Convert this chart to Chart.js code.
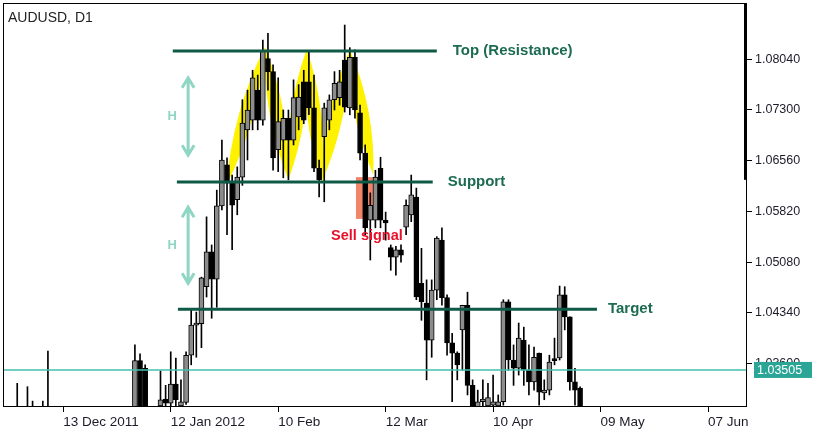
<!DOCTYPE html>
<html>
<head>
<meta charset="utf-8">
<title>AUDUSD, D1</title>
<script src="https://cdn.jsdelivr.net/npm/chart.js@4.4.1/dist/chart.umd.min.js"></script>
<style>
  html, body { margin: 0; padding: 0; background: #fff; }
  #wrap { width: 824px; height: 435px; }
</style>
</head>
<body>
<div id="wrap"><canvas id="chart" width="824" height="435"></canvas></div>
<script>
const symbolTitle = "AUDUSD, D1";

// daily candles, bar 0 = first bar on the left edge
const opens = [
  1.0240, 1.0210, 1.0250, 1.0230, 1.0260, 1.0240, 1.0220, 1.0180, 1.0250, 1.0230,
  1.0140, 1.0080, 1.0010, 0.9950, 0.9900, 0.9960, 0.9930, 0.9980, 1.0040, 1.0090,
  1.0130, 1.0110, 1.0170, 1.0160, 1.0190, 1.0230, 1.0364, 1.0353, 1.0265, 1.0240,
  1.0298, 1.0308, 1.0302, 1.0330, 1.0298, 1.0303, 1.0372, 1.0416, 1.0418, 1.0472,
  1.0523, 1.0483, 1.0590, 1.0650, 1.0623, 1.0599, 1.0632, 1.0701, 1.0715, 1.0759,
  1.0715, 1.0805, 1.0786, 1.0672, 1.0686, 1.0718, 1.0686, 1.0720, 1.0771, 1.0771,
  1.0733, 1.0645, 1.0691, 1.0715, 1.0745, 1.0748, 1.0803, 1.0733, 1.0807, 1.0726,
  1.0667, 1.0569, 1.0569, 1.0645, 1.0569, 1.0529, 1.0515, 1.0526, 1.0559, 1.0577,
  1.0603, 1.0477, 1.0448, 1.0394, 1.0467, 1.0540, 1.0456, 1.0390, 1.0375, 1.0409,
  1.0445, 1.0328, 1.0296, 1.0304, 1.0298, 1.0299, 1.0298, 1.0304, 1.0450, 1.0365,
  1.0353, 1.0394, 1.0350, 1.0333, 1.0375, 1.0317, 1.0321, 1.0365, 1.0368, 1.0460,
  1.0428, 1.0333, 1.0324
];
const highs = [
  1.0285, 1.0270, 1.0331, 1.0280, 1.0326, 1.0305, 1.0270, 1.0305, 1.0378, 1.0260,
  1.0180, 1.0120, 1.0060, 1.0010, 0.9980, 1.0020, 1.0010, 1.0060, 1.0120, 1.0150,
  1.0170, 1.0190, 1.0210, 1.0220, 1.0250, 1.0387, 1.0374, 1.0358, 1.0290, 1.0285,
  1.0349, 1.0328, 1.0377, 1.0368, 1.0336, 1.0377, 1.0438, 1.0435, 1.0486, 1.0574,
  1.0533, 1.0613, 1.0686, 1.0660, 1.0635, 1.0647, 1.0745, 1.0759, 1.0788, 1.0781,
  1.0832, 1.0842, 1.0796, 1.0777, 1.0730, 1.0730, 1.0774, 1.0767, 1.0788, 1.0817,
  1.0781, 1.0657, 1.0740, 1.0752, 1.0786, 1.0788, 1.0854, 1.0821, 1.0818, 1.0737,
  1.0679, 1.0609, 1.0642, 1.0661, 1.0581, 1.0533, 1.0531, 1.0533, 1.0599, 1.0635,
  1.0616, 1.0528, 1.0482, 1.0482, 1.0545, 1.0558, 1.0460, 1.0404, 1.0377, 1.0445,
  1.0464, 1.0336, 1.0321, 1.0336, 1.0331, 1.0343, 1.0314, 1.0453, 1.0453, 1.0387,
  1.0419, 1.0413, 1.0387, 1.0384, 1.0375, 1.0336, 1.0372, 1.0397, 1.0473, 1.0472,
  1.0428, 1.0353, 1.0326
];
const lows = [
  1.0190, 1.0170, 1.0200, 1.0180, 1.0220, 1.0190, 1.0160, 1.0150, 1.0210, 1.0120,
  1.0050, 0.9980, 0.9920, 0.9860, 0.9870, 0.9900, 0.9880, 0.9950, 1.0010, 1.0060,
  1.0090, 1.0080, 1.0140, 1.0130, 1.0160, 1.0220, 1.0260, 1.0250, 1.0215, 1.0210,
  1.0285, 1.0290, 1.0292, 1.0293, 1.0288, 1.0300, 1.0358, 1.0369, 1.0383, 1.0457,
  1.0426, 1.0442, 1.0584, 1.0548, 1.0526, 1.0577, 1.0620, 1.0657, 1.0701, 1.0701,
  1.0708, 1.0759, 1.0642, 1.0640, 1.0631, 1.0628, 1.0679, 1.0701, 1.0710, 1.0723,
  1.0640, 1.0603, 1.0596, 1.0701, 1.0730, 1.0737, 1.0727, 1.0723, 1.0718, 1.0657,
  1.0548, 1.0511, 1.0558, 1.0558, 1.0540, 1.0496, 1.0489, 1.0508, 1.0548, 1.0567,
  1.0453, 1.0423, 1.0336, 1.0369, 1.0453, 1.0445, 1.0372, 1.0304, 1.0336, 1.0350,
  1.0314, 1.0285, 1.0285, 1.0292, 1.0289, 1.0289, 1.0289, 1.0299, 1.0350, 1.0328,
  1.0343, 1.0328, 1.0314, 1.0321, 1.0299, 1.0307, 1.0314, 1.0358, 1.0365, 1.0409,
  1.0321, 1.0299, 1.0289
];
const closes = [
  1.0210, 1.0250, 1.0230, 1.0260, 1.0240, 1.0220, 1.0180, 1.0250, 1.0230, 1.0140,
  1.0080, 1.0010, 0.9950, 0.9900, 0.9960, 0.9930, 0.9980, 1.0040, 1.0090, 1.0130,
  1.0110, 1.0170, 1.0160, 1.0190, 1.0230, 1.0364, 1.0275, 1.0265, 1.0240, 1.0275,
  1.0307, 1.0302, 1.0330, 1.0307, 1.0304, 1.0372, 1.0416, 1.0419, 1.0485, 1.0523,
  1.0483, 1.0590, 1.0657, 1.0623, 1.0591, 1.0632, 1.0711, 1.0730, 1.0777, 1.0715,
  1.0816, 1.0786, 1.0660, 1.0713, 1.0718, 1.0686, 1.0748, 1.0749, 1.0715, 1.0733,
  1.0645, 1.0628, 1.0733, 1.0745, 1.0769, 1.0771, 1.0734, 1.0807, 1.0730, 1.0667,
  1.0558, 1.0591, 1.0632, 1.0569, 1.0565, 1.0515, 1.0526, 1.0518, 1.0591, 1.0606,
  1.0457, 1.0450, 1.0394, 1.0467, 1.0543, 1.0456, 1.0390, 1.0375, 1.0358, 1.0445,
  1.0328, 1.0296, 1.0304, 1.0308, 1.0310, 1.0304, 1.0304, 1.0450, 1.0365, 1.0353,
  1.0397, 1.0350, 1.0333, 1.0369, 1.0318, 1.0321, 1.0362, 1.0364, 1.0460, 1.0428,
  1.0333, 1.0321, 1.0296
];

const xTickBars = [11, 32, 53, 74, 95, 116, 137];
const xTickLabels = ["13 Dec 2011", "12 Jan 2012", "10 Feb", "12 Mar", "10 Apr", "09 May", "07 Jun"];
const yTicks = [1.0360, 1.0434, 1.0508, 1.0582, 1.0656, 1.0730, 1.0804];
const bidPrice = 1.03505;

// pattern levels drawn on the chart
const levelNames = ["Top (Resistance)", "Support", "Target"];
const levelPrices = [1.0816, 1.0625, 1.0439];
const levelFrom = [32.4, 33.2, 33.4];
const levelTo = [84.0, 83.2, 115.3];

// triple top outline (bar, price)
const zigBars = [42.9, 50.4, 55.0, 58.6, 61.5, 67.0, 71.6];
const zigPrices = [1.0620, 1.0822, 1.0628, 1.0819, 1.0625, 1.0818, 1.0635];

// height arrows "H"
const arrowBar = 35.4;
const arrowFrom = [1.0777, 1.0588];
const arrowTo = [1.0664, 1.0477];

// sell signal box
const sellBox = { from: 68.2, to: 72.1, top: 1.0632, bottom: 1.0571 };
const sellText = "Sell signal";
const scrollMark = 1.0628;

const FONT = "'Liberation Sans', Arial, sans-serif";
const GREEN = "#0e5a47";

const bars = opens.map((_, i) => i);
const wickData = bars.map(i => ({ x: i, y: [lows[i], highs[i]] }));
const bodyData = bars.map(i => ({ x: i, y: [opens[i], closes[i]] }));
const bodyFill = bars.map(i => closes[i] >= opens[i] ? "#8c8c8c" : "#000000");

const levelSets = levelNames.map((name, k) => ({
  type: "line",
  label: name,
  data: [{ x: levelFrom[k], y: levelPrices[k] }, { x: levelTo[k], y: levelPrices[k] }],
  borderColor: GREEN,
  borderWidth: 3,
  pointRadius: 0,
  order: 0,
  clip: 0
}));

const patternPlugin = {
  id: "pattern",
  beforeDatasetsDraw(chart) {
    const { ctx, chartArea: a, scales: { x, y } } = chart;
    ctx.save();
    ctx.beginPath();
    ctx.rect(a.left, a.top, a.width, a.height);
    ctx.clip();
    // yellow lens shapes along each leg
    ctx.fillStyle = "#fff200";
    for (let k = 0; k < zigBars.length - 1; k++) {
      const ax = x.getPixelForValue(zigBars[k]), ay = y.getPixelForValue(zigPrices[k]);
      const bx = x.getPixelForValue(zigBars[k + 1]), by = y.getPixelForValue(zigPrices[k + 1]);
      const len = Math.hypot(bx - ax, by - ay);
      const nx = -(by - ay) / len, ny = (bx - ax) / len;
      const mx = (ax + bx) / 2, my = (ay + by) / 2;
      const w = 14;
      ctx.beginPath();
      ctx.moveTo(ax, ay);
      ctx.quadraticCurveTo(mx + nx * w, my + ny * w, bx, by);
      ctx.quadraticCurveTo(mx - nx * w, my - ny * w, ax, ay);
      ctx.fill();
    }
    // sell signal box
    ctx.fillStyle = "rgba(240, 120, 90, 0.9)";
    const l = x.getPixelForValue(sellBox.from), r = x.getPixelForValue(sellBox.to);
    const t = y.getPixelForValue(sellBox.top), b = y.getPixelForValue(sellBox.bottom);
    ctx.fillRect(l, t, r - l, b - t);
    ctx.restore();
  },
  afterDatasetsDraw(chart) {
    const { ctx, chartArea: a, scales: { x, y } } = chart;
    ctx.save();
    // bid line
    const yb = y.getPixelForValue(bidPrice);
    ctx.strokeStyle = "#45bfb1";
    ctx.lineWidth = 1.5;
    ctx.beginPath();
    ctx.moveTo(a.left, yb);
    ctx.lineTo(a.right, yb);
    ctx.stroke();

    // level labels
    const gaps = [16, 15, 11];
    ctx.font = "bold 15px " + FONT;
    ctx.fillStyle = "#1d6b52";
    ctx.textBaseline = "middle";
    levelNames.forEach((name, k) => {
      ctx.fillText(name, x.getPixelForValue(levelTo[k]) + gaps[k], y.getPixelForValue(levelPrices[k]));
    });

    // H arrows
    const ax = x.getPixelForValue(arrowBar);
    ctx.strokeStyle = "#8fd6c4";
    ctx.fillStyle = "#8fd6c4";
    ctx.lineWidth = 3;
    arrowFrom.forEach((p, k) => {
      const y1 = y.getPixelForValue(p), y2 = y.getPixelForValue(arrowTo[k]);
      ctx.beginPath();
      ctx.moveTo(ax, y1); ctx.lineTo(ax, y2);
      ctx.moveTo(ax - 6, y1 + 10); ctx.lineTo(ax, y1); ctx.lineTo(ax + 6, y1 + 10);
      ctx.moveTo(ax - 6, y2 - 10); ctx.lineTo(ax, y2); ctx.lineTo(ax + 6, y2 - 10);
      ctx.stroke();
      ctx.textAlign = "center";
      ctx.font = "bold 13px " + FONT;
      ctx.fillText("H", ax - 16, (y1 + y2) / 2);
    });

    // sell signal text
    ctx.font = "bold 14.5px " + FONT;
    ctx.fillStyle = "#e8102a";
    ctx.textAlign = "center";
    ctx.fillText(sellText, x.getPixelForValue((sellBox.from + sellBox.to) / 2) + 1, y.getPixelForValue(sellBox.bottom) + 17);
    ctx.restore();
  },
  afterDraw(chart) {
    const { ctx, chartArea: a, scales: { y } } = chart;
    ctx.save();
    ctx.strokeStyle = "#000";
    ctx.lineWidth = 1;
    ctx.strokeRect(a.left + 0.5, a.top + 0.5, a.width - 1, a.height - 1);
    ctx.lineWidth = 3;
    ctx.beginPath();
    ctx.moveTo(a.right - 1.5, a.top);
    ctx.lineTo(a.right - 1.5, y.getPixelForValue(scrollMark));
    ctx.stroke();

    // current price box
    const yb = y.getPixelForValue(bidPrice);
    ctx.fillStyle = "#2ba596";
    ctx.fillRect(a.right + 7, yb - 8, 58, 16);
    ctx.fillStyle = "#ffffff";
    ctx.font = "12.5px " + FONT;
    ctx.textBaseline = "middle";
    ctx.fillText(bidPrice.toFixed(5), a.right + 10, yb + 1);

    // title
    ctx.fillStyle = "#222";
    ctx.font = "14px " + FONT;
    ctx.textBaseline = "alphabetic";
    ctx.fillText(symbolTitle, 8, 22);
    ctx.restore();
  }
};

new Chart(document.getElementById("chart"), {
  type: "bar",
  data: {
    datasets: [
      ...levelSets,
      {
        label: "body",
        data: bodyData,
        backgroundColor: bodyFill,
        borderColor: "#000",
        borderWidth: 1,
        borderSkipped: false,
        barThickness: 5,
        minBarLength: 2,
        grouped: false,
        order: 1,
        clip: 0
      },
      {
        label: "wick",
        data: wickData,
        backgroundColor: "#000",
        borderWidth: 0,
        barThickness: 1,
        grouped: false,
        order: 2,
        clip: 0
      }
    ]
  },
  options: {
    responsive: false,
    animation: false,
    devicePixelRatio: 1,
    layout: { padding: { left: 3, top: 3, right: 0, bottom: 0 } },
    plugins: { legend: { display: false }, tooltip: { enabled: false } },
    scales: {
      x: {
        type: "linear",
        min: -0.78,
        max: 144.62,
        offset: false,
        afterBuildTicks: s => { s.ticks = xTickBars.map(v => ({ value: v })); },
        afterFit: s => { s.height = 28; s.paddingLeft = 0; s.paddingRight = 0; },
        grid: { offset: false, drawOnChartArea: false, drawTicks: true, tickLength: 5, color: "#000" },
        border: { display: false },
        ticks: {
          align: "start",
          padding: 2,
          maxRotation: 0,
          autoSkip: false,
          color: "#1c1c2a",
          font: { family: FONT, size: 13.5 },
          callback: v => xTickLabels[xTickBars.indexOf(v)]
        }
      },
      y: {
        position: "right",
        min: 1.02964,
        max: 1.08862,
        afterBuildTicks: s => { s.ticks = yTicks.map(v => ({ value: v })); },
        afterFit: s => { s.width = 77; s.paddingTop = 0; s.paddingBottom = 0; },
        grid: { offset: false, drawOnChartArea: false, drawTicks: true, tickLength: 5, color: "#000" },
        border: { display: false },
        ticks: {
          padding: 3,
          color: "#1c1c2a",
          font: { family: FONT, size: 12.5 },
          callback: v => v.toFixed(5)
        }
      }
    }
  },
  plugins: [patternPlugin]
});
</script>
</body>
</html>
